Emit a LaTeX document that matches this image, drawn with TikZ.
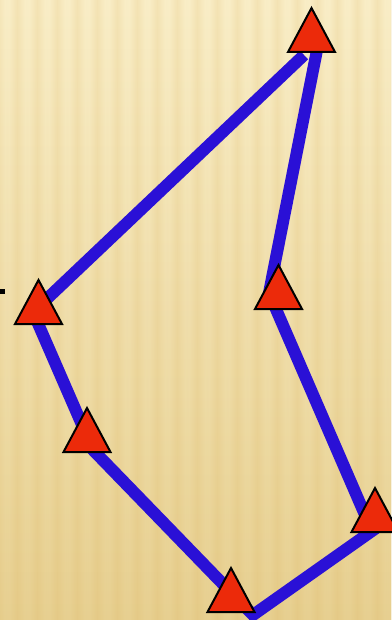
\documentclass[tikz,border=0pt]{standalone}
\usetikzlibrary{fadings}
\definecolor{bgtop}{RGB}{252,243,208}
\definecolor{bgbot}{RGB}{233,211,150}
\definecolor{stripecol}{RGB}{214,170,80}
\definecolor{lineblue}{RGB}{42,16,214}
\definecolor{trired}{RGB}{236,42,10}
\tikzfading[name=midstripe, left color=transparent!100, right color=transparent!100, middle color=transparent!78]
\tikzset{
  edge/.style={draw=lineblue, line width=12pt, line join=miter, line cap=butt},
  trishape/.style={draw=black, fill=trired, line width=2pt, line join=miter},
  tri/.pic={\path[trishape] (-23.5,-1) -- (0,-45) -- (23.5,-1) -- cycle;}
}
\begin{document}
\begin{tikzpicture}[x=1pt,y=-1pt]
  \useasboundingbox (0,0) rectangle (391,620);
  % background
  \shade[top color=bgtop, bottom color=bgbot] (0,0) rectangle (391,620);
  \foreach \i in {-1,...,19} {
    \fill[stripecol, path fading=midstripe] (\i*20+5,0) rectangle (\i*20+29,620);
  }
  % small black mark at left edge
  \fill[black] (0,289) rectangle (5,294);
  % connector vertices
  \coordinate (v1a) at (304,55);
  \coordinate (v2) at (33,312);
  \coordinate (v3) at (93,450);
  \coordinate (v4) at (253,615);
  \coordinate (v5) at (372,531);
  \coordinate (v6) at (269,293);
  \coordinate (v1b) at (318,45);
  \draw[edge] (v1a) -- (v2) -- (v3) -- (v4) -- (v5) -- (v6) -- (v1b);
  % triangles (base centres)
  \pic (t1) at (311.5,53) {tri};
  \pic (t2) at (38.5,325) {tri};
  \pic (t3) at (87,453) {tri};
  \pic (t4) at (231,613) {tri};
  \pic (t5) at (375,533) {tri};
  \pic (t6) at (278.5,310) {tri};
\end{tikzpicture}
\end{document}
